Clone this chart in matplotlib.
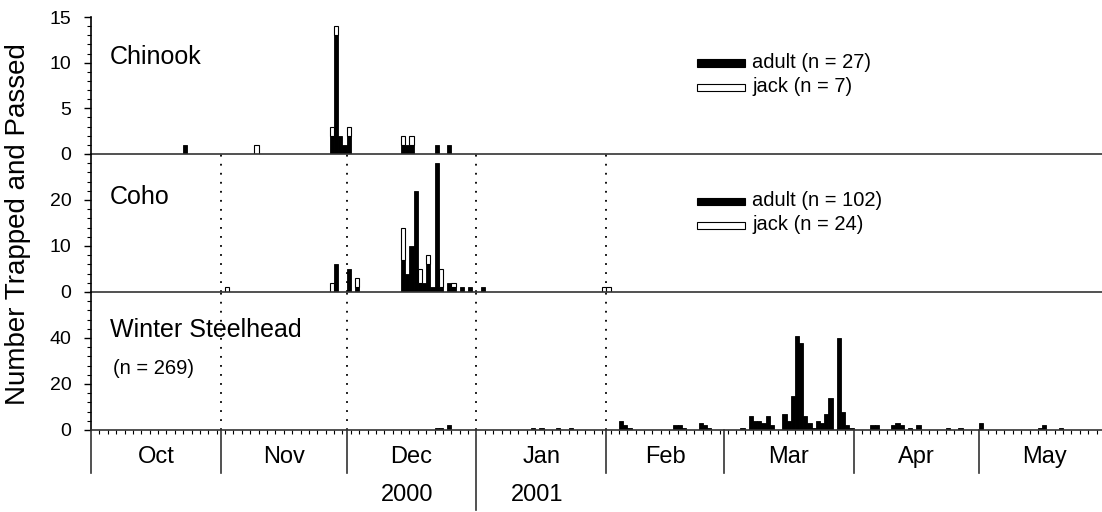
import numpy as np
import matplotlib
matplotlib.use("Agg")
import matplotlib.pyplot as plt
from matplotlib.patches import Rectangle
from matplotlib.transforms import blended_transform_factory

plt.rcParams['font.family'] = ['Liberation Sans', 'DejaVu Sans']

# season starts 1 Oct 2000, bars are daily counts
season_start = np.datetime64('2000-10-01')

chinook_dates = ['2000-10-23', '2000-11-09', '2000-11-27', '2000-11-28', '2000-11-29',
                 '2000-11-30', '2000-12-01', '2000-12-14', '2000-12-15', '2000-12-16',
                 '2000-12-22', '2000-12-25']
chinook_adult = [1, 0, 2, 13, 2, 1, 2, 1, 1, 1, 1, 1]
chinook_jack = [0, 1, 1, 1, 0, 0, 1, 1, 0, 1, 0, 0]

coho_dates = ['2000-11-02', '2000-11-27', '2000-11-28', '2000-12-01', '2000-12-03',
              '2000-12-14', '2000-12-15', '2000-12-16', '2000-12-17', '2000-12-18',
              '2000-12-19', '2000-12-20', '2000-12-21', '2000-12-22', '2000-12-23',
              '2000-12-25', '2000-12-26', '2000-12-28', '2000-12-30', '2001-01-02',
              '2001-01-31', '2001-02-01']
coho_adult = [0, 0, 6, 5, 1, 7, 4, 10, 22, 2, 2, 6, 1, 28, 1, 2, 1, 1, 1, 1, 0, 0]
coho_jack = [1, 2, 0, 0, 2, 7, 0, 0, 0, 3, 0, 2, 0, 0, 4, 0, 1, 0, 0, 0, 1, 1]

steel_dates = ['2000-12-22', '2000-12-23', '2000-12-25', '2001-01-14', '2001-01-16',
               '2001-01-20', '2001-01-23', '2001-02-04', '2001-02-05', '2001-02-06',
               '2001-02-17', '2001-02-18', '2001-02-19', '2001-02-23', '2001-02-24',
               '2001-02-25', '2001-03-05', '2001-03-07', '2001-03-08', '2001-03-09',
               '2001-03-10', '2001-03-11', '2001-03-12', '2001-03-15', '2001-03-16',
               '2001-03-17', '2001-03-18', '2001-03-19', '2001-03-20', '2001-03-21',
               '2001-03-22', '2001-03-23', '2001-03-24', '2001-03-25', '2001-03-26',
               '2001-03-28', '2001-03-29', '2001-03-30', '2001-03-31', '2001-04-05',
               '2001-04-06', '2001-04-10', '2001-04-11', '2001-04-12', '2001-04-14',
               '2001-04-16', '2001-04-23', '2001-04-26', '2001-05-01', '2001-05-15',
               '2001-05-16', '2001-05-20']
steel_count = [1, 1, 2, 1, 1, 1, 1, 4, 2, 1, 2, 2, 1, 3, 2, 1, 1, 6, 4, 4, 3, 6, 2, 7, 4,
               15, 41, 38, 6, 3, 1, 4, 3, 7, 14, 40, 8, 2, 1, 2, 2, 2, 3, 2, 1, 2, 1, 1,
               3, 1, 2, 1]

month_names = ['Oct', 'Nov', 'Dec', 'Jan', 'Feb', 'Mar', 'Apr', 'May']
month_starts = ['2000-10-01', '2000-11-01', '2000-12-01', '2001-01-01', '2001-02-01',
                '2001-03-01', '2001-04-01', '2001-05-01', '2001-06-01']
dotted_months = ['2000-11-01', '2000-12-01', '2001-01-01', '2001-02-01']

chinook_legend = ['adult (n = 27)', 'jack (n = 7)']
coho_legend = ['adult (n = 102)', 'jack (n = 24)']


def to_day(dates):
    return (np.array(dates, dtype='datetime64[D]') - season_start).astype(int)


W, H = 1102, 512
fig = plt.figure(figsize=(W / 100, H / 100), dpi=100)

left = 91 / W
width = (W - 91) / W
ax1 = fig.add_axes([left, (H - 154) / H, width, 137 / H])
ax2 = fig.add_axes([left, (H - 292) / H, width, 138 / H])
ax3 = fig.add_axes([left, (H - 430) / H, width, 138 / H])

x_end = (W - 91) / 4.19
ms = to_day(month_starts)
dm = to_day(dotted_months)


def stacked(ax, dates, adult, jack):
    d = to_day(dates)
    a = np.array(adult)
    j = np.array(jack)
    m = a > 0
    ax.bar(d[m], a[m], width=1, align='edge', color='black', edgecolor='black', lw=0.6)
    m = j > 0
    ax.bar(d[m], j[m], bottom=a[m], width=1, align='edge', color='white',
           edgecolor='black', lw=0.8)


stacked(ax1, chinook_dates, chinook_adult, chinook_jack)
stacked(ax2, coho_dates, coho_adult, coho_jack)
sd = to_day(steel_dates)
ax3.bar(sd, steel_count, width=1, align='edge', color='black', edgecolor='black', lw=0.6)

ax3.set_xticks(ms[:-1])
ax3.set_xticklabels([])
ax3.set_xticks(np.arange(0, x_end, 2), minor=True)
ax3.tick_params(axis='x', which='major', length=0)
ax3.tick_params(axis='x', which='minor', length=3, width=0.8)

for ax, top, ticks, minor in [(ax1, 15, [0, 5, 10, 15], 1), (ax2, 30, [0, 10, 20], 2),
                              (ax3, 60, [0, 20, 40], 4)]:
    ax.set_yticks(ticks)
    ax.set_yticks(np.arange(0, top + 0.1, minor), minor=True)
    ax.set_xlim(0, x_end)
    ax.set_ylim(0, top)
    ax.tick_params(axis='y', which='major', length=5, width=1, labelsize=14, pad=9)
    ax.tick_params(axis='y', which='minor', length=3, width=0.8)
    for s in ['top', 'right']:
        ax.spines[s].set_visible(False)
    ax.spines['left'].set_linewidth(1.2)
    ax.spines['bottom'].set_linewidth(1.2)
    ax.spines['bottom'].set_color('#333333')
    ax.patch.set_alpha(0)

for ax in [ax1, ax2]:
    ax.set_xticks([])
    ax.set_xlim(0, x_end)

for ax in [ax2, ax3]:
    for d in dm:
        ax.axvline(d, color='black', lw=1.3, linestyle=(0, (1, 4)), zorder=0)

# month separators and labels below the axis
tr = blended_transform_factory(ax3.transData, ax3.transAxes)
for i, d in enumerate(ms[:-1]):
    low = -0.58 if month_names[i] == 'Jan' else -0.31
    ax3.plot([d, d], [0, low], color='#333333', lw=1.2, transform=tr, clip_on=False)
    ax3.text((ms[i] + ms[i + 1]) / 2, -0.195, month_names[i], transform=tr,
             ha='center', va='center', fontsize=17)
ax3.text((ms[2] + ms[3]) / 2 - 1, -0.47, '2000', transform=tr, ha='center', va='center', fontsize=17)
ax3.text((ms[3] + ms[4]) / 2 - 1, -0.47, '2001', transform=tr, ha='center', va='center', fontsize=17)
ax3.set_xlim(0, x_end)

# panel titles
ax1.text(0.0188, 0.708, 'Chinook', transform=ax1.transAxes, fontsize=18, va='center')
ax2.text(0.0188, 0.688, 'Coho', transform=ax2.transAxes, fontsize=18, va='center')
ax3.text(0.0188, 0.725, 'Winter Steelhead', transform=ax3.transAxes, fontsize=18, va='center')
ax3.text(0.0218, 0.449, '(n = 269)', transform=ax3.transAxes, fontsize=14.5, va='center')


def legend(ax, labels, y_top_px, y_bot_px, ax_bottom_px, ax_h):
    for lab, ypx, fc in [(labels[0], y_top_px, 'black'), (labels[1], y_bot_px, 'white')]:
        yc = (ax_bottom_px - ypx) / ax_h
        x0 = (697 - 91) / (W - 91)
        rw = 48 / (W - 91)
        rh = 7 / ax_h
        ax.add_patch(Rectangle((x0, yc - rh / 2), rw, rh, transform=ax.transAxes,
                               facecolor=fc, edgecolor='black', lw=0.8, clip_on=False))
        ax.text((752 - 91) / (W - 91), yc, lab, transform=ax.transAxes,
                fontsize=14.5, va='center')


legend(ax1, chinook_legend, 63, 87, 154, 137)
legend(ax2, coho_legend, 201, 225, 292, 138)

fig.text(18 / W, 1 - 224 / H, 'Number Trapped and Passed', rotation=90,
         ha='center', va='center', fontsize=20)

fig.savefig('out.png', dpi=100)
